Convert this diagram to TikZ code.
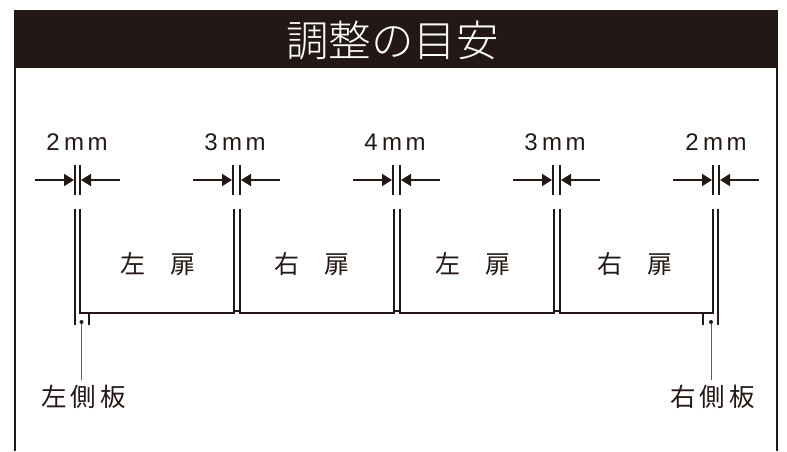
\documentclass[tikz,border=0pt]{standalone}
\usepackage{fontspec}
\setmainfont{Liberation Sans}
\newfontfamily\jpfont{Noto Sans CJK JP}
\newfontfamily\jplight{Noto Sans CJK JP Light}
\usetikzlibrary{arrows.meta}
\definecolor{sumi}{HTML}{231815}
\tikzset{
  waku/.style={line width=2.4pt,draw=sumi},
  tobira/.style={line width=2.5pt,draw=sumi},
  hosoi/.style={line width=1.2pt,draw=sumi},
  yajirushi/.style={line width=1.9pt,draw=sumi,-{Triangle[length=10pt,width=12pt]}},
  sunpo/.style={text=sumi,font=\fontsize{24}{24}\selectfont,inner sep=0pt},
  tobiramei/.style={text=sumi,font=\jpfont\fontsize{25}{25}\selectfont,inner sep=0pt},
  sokuban/.style={text=sumi,font=\jpfont\fontsize{25.5}{25.5}\selectfont,inner sep=0pt},
  hikidashi/.style={line width=0.9pt,draw=sumi!70},
}
\begin{document}
\begin{tikzpicture}[x=1pt,y=1pt]
\useasboundingbox (0,0) rectangle (787,451);

% 見出し
\fill[sumi] (14,383) rectangle (778,441);
\node[text=white,font=\jplight\fontsize{42.5}{42.5}\selectfont,inner sep=0pt] (midashi) at (392.5,411) {調整の目安};

% 外枠
\draw[waku] (15,383)--(15,0);
\draw[waku] (777,383)--(777,0);

% 寸法
\foreach \xa/\xb/\xm/\moji/\nm in {75/80/77/2/a,233/240/235/3/b,393/400/395/4/c,553/560/555/3/d,713/719/716/2/e}{
  \node[sunpo] (sunpo\nm) at (\xm,309) {\moji\hspace{4.5pt}m\hspace{3.5pt}m};
  \draw[hosoi] (\xa,286)--(\xa,256);
  \draw[hosoi] (\xb,286)--(\xb,256);
  \coordinate (hidariS\nm) at (\xa-40,271);
  \coordinate (hidariE\nm) at (\xa-1,271);
  \coordinate (migiS\nm) at (\xb+40,271);
  \coordinate (migiE\nm) at (\xb+1,271);
  \draw[yajirushi] (hidariS\nm)--(hidariE\nm);
  \draw[yajirushi] (migiS\nm)--(migiE\nm);
}

% 扉
\draw[tobira] (75,126)--(75,242);
\draw[tobira] (80,242)--(80,138)--(234,138)--(234,242);
\draw[tobira] (234,140)--(240,140);
\draw[tobira] (240,242)--(240,138)--(394,138)--(394,242);
\draw[tobira] (394,140)--(400,140);
\draw[tobira] (400,242)--(400,138)--(554,138)--(554,242);
\draw[tobira] (554,140)--(560,140);
\draw[tobira] (560,242)--(560,138)--(713,138)--(713,242);
\draw[tobira] (718,126)--(718,242);
\draw[tobira] (89,138)--(89,126);
\draw[tobira] (703,138)--(703,126);

% 扉の名前
\node[tobiramei] (tobira1) at (157.5,187) {左　扉};
\node[tobiramei] (tobira2) at (311.5,187) {右　扉};
\node[tobiramei] (tobira3) at (472.5,187) {左　扉};
\node[tobiramei] (tobira4) at (635,187) {右　扉};

% 側板
\node[sokuban] (hidariita) at (83.5,54) {左\hspace{4pt}側\hspace{4pt}板};
\node[sokuban] (migiita) at (712.5,54) {右\hspace{4pt}側\hspace{4pt}板};
\node[circle,fill=sumi,inner sep=0pt,minimum size=4pt] (tenL) at (81.5,129) {};
\node[circle,fill=sumi,inner sep=0pt,minimum size=4pt] (tenR) at (711,129) {};
\draw[hikidashi] (tenL)--([yshift=5pt]tenL|-hidariita.north);
\draw[hikidashi] (tenR)--([yshift=5pt]tenR|-migiita.north);

\end{tikzpicture}
\end{document}
